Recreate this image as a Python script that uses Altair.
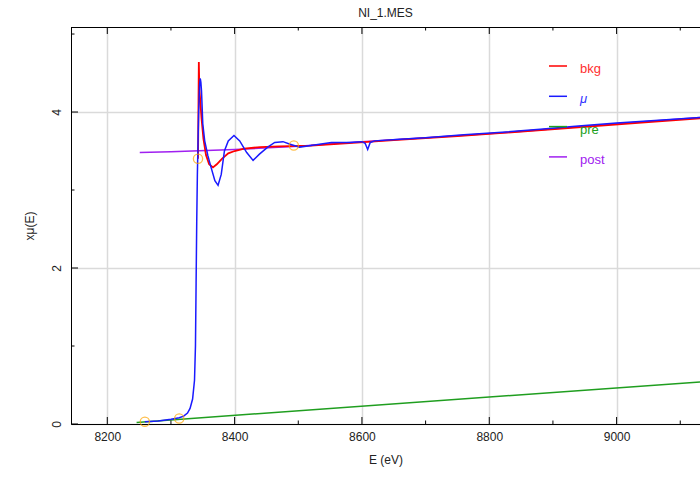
import altair as alt
import pandas as pd

# ---- data ----
mu_e = [8259, 8280, 8300, 8313, 8320, 8326, 8330, 8334, 8337, 8338.5, 8339.5, 8340.5, 8341.5,
        8342.5, 8343.5, 8345, 8346, 8347, 8348, 8350, 8353, 8358, 8363, 8369, 8374, 8379, 8384,
        8390, 8399, 8408, 8419, 8429, 8439, 8452, 8463, 8476, 8486, 8502, 8528, 8552, 8581,
        8600, 8605, 8609, 8613, 8620, 8660, 8700, 8760, 8820, 8880, 8940, 9000, 9060, 9131]
mu_v = [0.03, 0.04, 0.06, 0.08, 0.10, 0.14, 0.20, 0.32, 0.56, 1.0, 1.8, 2.6, 3.2,
        3.6, 4.0, 4.35, 4.43, 4.38, 4.27, 3.85, 3.63, 3.44, 3.29, 3.12, 3.06, 3.20, 3.50,
        3.63, 3.70, 3.63, 3.48, 3.38, 3.46, 3.55, 3.61, 3.62, 3.59, 3.55, 3.58, 3.61, 3.61,
        3.62, 3.60, 3.52, 3.61, 3.63, 3.65, 3.67, 3.71, 3.74, 3.78, 3.82, 3.86, 3.89, 3.93]

bkg_e = [8342.5, 8343.8, 8344.6, 8346, 8348, 8351, 8355, 8360, 8366, 8372, 8380, 8390, 8400,
         8415, 8440, 8470, 8520, 8580, 8650, 8750, 8850, 8950, 9050, 9131]
bkg_v = [3.40, 4.64, 4.30, 4.15, 3.92, 3.66, 3.45, 3.33, 3.29, 3.33, 3.40, 3.47, 3.50,
         3.53, 3.55, 3.56, 3.57, 3.60, 3.64, 3.69, 3.75, 3.81, 3.87, 3.92]

pre_e = [8246, 9131]
pre_v = [0.02, 0.54]

post_e = [8251, 8300, 8400, 8500, 8581, 8700, 8848, 9000, 9131]
post_v = [3.48, 3.49, 3.52, 3.56, 3.61, 3.67, 3.75, 3.85, 3.93]

circle_e = [8259, 8313, 8342.5, 8493]
circle_v = [0.03, 0.07, 3.40, 3.57]

x_major = [8200, 8400, 8600, 8800, 9000]
x_minor = [8300, 8500, 8700, 8900, 9100]
y_major = [0, 2, 4]
y_minor = [1, 3, 5]

legend_names = ["bkg", "μ", "pre", "post"]
legend_line_colors = ["#ff0000", "#1a1aff", "#1f9e1f", "#a020f0"]
legend_text_colors = ["#ff3030", "#3030ff", "#20a020", "#a020f0"]

# ---- layout ----
W, H = 629, 397
XDOM = [8143, 9131]
YDOM = [0, 5.09]
FONT = "Liberation Sans"
PX_X = (XDOM[1] - XDOM[0]) / W   # data units per pixel
PX_Y = (YDOM[1] - YDOM[0]) / H

def series(e, v):
    return pd.DataFrame({"E": e, "v": v})

xs = alt.Scale(domain=XDOM, nice=False, zero=False)
ys = alt.Scale(domain=YDOM, nice=False, zero=False)

xaxis = alt.Axis(values=x_major, format="d", ticks=False, domainColor="black", domainWidth=1,
                 grid=True, gridColor="#dadada", gridWidth=1.5,
                 labelFont=FONT, labelFontSize=12, labelColor="#222", labelPadding=7,
                 labelFlush=False, title="E (eV)", titleFont=FONT, titleFontSize=12,
                 titleFontWeight="normal", titleColor="#222", titlePadding=12)
yaxis = alt.Axis(values=y_major, format="d", ticks=False, domainColor="black", domainWidth=1,
                 grid=True, gridColor="#dadada", gridWidth=1.5,
                 labelFont=FONT, labelFontSize=12, labelColor="#222", labelPadding=8,
                 labelAngle=270, labelAlign="center", labelBaseline="bottom",
                 title="xμ(E)", titleFont=FONT, titleFontSize=12,
                 titleFontWeight="normal", titleColor="#222", titlePadding=14)

def line(e, v, color, sw=1.5):
    return alt.Chart(series(e, v)).mark_line(color=color, strokeWidth=sw, clip=True).encode(
        x=alt.X("E:Q", scale=xs, axis=xaxis),
        y=alt.Y("v:Q", scale=ys, axis=yaxis),
    )

post = line(post_e, post_v, "#a020f0")
pre = line(pre_e, pre_v, "#1f9e1f")
bkg = line(bkg_e, bkg_v, "#ff0000", 1.8)
mu = line(mu_e, mu_v, "#1a1aff", 1.5)

circles = alt.Chart(series(circle_e, circle_v)).mark_point(
    shape="circle", filled=False, color="#ffa500", size=85, strokeWidth=1.3
).encode(x=alt.X("E:Q", scale=xs), y=alt.Y("v:Q", scale=ys))

TC = "black"
def xticks(vals, ya, yb):
    return alt.Chart(pd.DataFrame({"E": vals})).mark_rule(color=TC, strokeWidth=1).encode(
        x=alt.X("E:Q", scale=xs), y=alt.Y(datum=ya, scale=ys), y2=alt.Y2(datum=yb))

def yticks(vals, length_px):
    return alt.Chart(pd.DataFrame({"v": vals})).mark_rule(color=TC, strokeWidth=1).encode(
        y=alt.Y("v:Q", scale=ys), x=alt.X(datum=XDOM[0], scale=xs),
        x2=alt.X2(datum=XDOM[0] + length_px * PX_X))

ticks = [xticks(x_major, YDOM[0], YDOM[0] + 7 * PX_Y),
         xticks(x_minor, YDOM[0], YDOM[0] + 3.5 * PX_Y),
         xticks(x_major, YDOM[1], YDOM[1] - 7 * PX_Y),
         xticks(x_minor, YDOM[1], YDOM[1] - 3.5 * PX_Y),
         yticks(y_major, 7), yticks(y_minor, 3.5)]

top_line = alt.Chart(pd.DataFrame({"a": [0]})).mark_rule(color="black", strokeWidth=1).encode(
    x=alt.value(0), x2=alt.value(W), y=alt.value(0.5))

leg = pd.DataFrame({"name": legend_names, "lc": legend_line_colors,
                    "tc": legend_text_colors, "i": list(range(len(legend_names)))})
leg_base = alt.Chart(leg).transform_calculate(ly="39 + datum.i * 30.3", ty="42 + datum.i * 30.3")
leg_lines = leg_base.mark_rule(strokeWidth=1.5).encode(
    x=alt.value(478), x2=alt.value(496),
    y=alt.Y("ly:Q", scale=None),
    color=alt.Color("lc:N", scale=None),
)
leg_text = leg_base.transform_filter("datum.name != 'μ'").mark_text(
    align="left", baseline="middle", font=FONT, fontSize=13
).encode(
    x=alt.value(509), y=alt.Y("ty:Q", scale=None), text="name:N",
    color=alt.Color("tc:N", scale=None),
)
leg_text_mu = leg_base.transform_filter("datum.name == 'μ'").mark_text(
    align="left", baseline="middle", font=FONT, fontSize=13, fontStyle="italic"
).encode(
    x=alt.value(509), y=alt.Y("ty:Q", scale=None), text="name:N",
    color=alt.Color("tc:N", scale=None),
)

chart = alt.layer(
    post, pre, bkg, mu, circles, *ticks, top_line, leg_lines, leg_text, leg_text_mu
).properties(
    width=W, height=H,
    title=alt.TitleParams("NI_1.MES", font=FONT, fontSize=12, fontWeight="normal",
                          color="#222", anchor="middle", frame="group", offset=7),
    autosize=alt.AutoSizeParams(type="none"),
    padding={"left": 71, "top": 27, "right": 0, "bottom": 56},
).configure_view(stroke=None).configure(background="white")

chart.save("out.html", embed_options={"renderer": "svg", "actions": False})
